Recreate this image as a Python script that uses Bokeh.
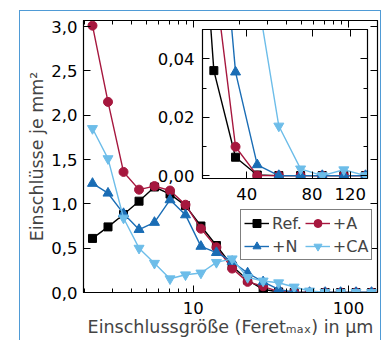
from bokeh.plotting import figure
from bokeh.models import (FixedTicker, LogAxis, LinearAxis, Legend, LegendItem,
                          Range1d, Div)
from bokeh.layouts import column
from bokeh.embed import file_html
from bokeh.resources import INLINE

# ---------------- data ----------------
size_um = [2.24, 2.82, 3.55, 4.47, 5.62, 7.08, 8.91, 11.2, 14.1, 17.8,
           22.4, 28.2, 35.5, 44.7, 56.2, 70.8, 89.1, 112, 141]
ref = [0.61, 0.74, 0.88, 1.03, 1.19, 1.11, 0.98, 0.75, 0.53, 0.30,
       0.14, 0.036, 0.0063, 0.0002, 0.0, 0.0, 0.0, 0.0, 0.0]
plus_a = [3.01, 2.15, 1.36, 1.16, 1.20, 1.15, 0.99, 0.72, 0.51, 0.27,
          0.12, 0.07, 0.0099, 0.0, 0.0, 0.0, 0.0, 0.0, 0.0]
plus_n = [1.23, 1.12, 0.89, 0.71, 0.79, 1.045, 0.875, 0.52, 0.45, 0.35,
          0.22, 0.12, 0.0355, 0.0037, 0.0, 0.0, 0.0, 0.0, 0.0]
plus_ca = [1.85, 1.51, 0.84, 0.50, 0.33, 0.155, 0.20, 0.22, 0.34, 0.38,
           0.17, 0.13, 0.11, 0.062, 0.017, 0.0023, 0.0, 0.002, 0.0]

series_names = ["Ref.", "+A", "+N", "+CA"]
main_y_ticks = [0.0, 0.5, 1.0, 1.5, 2.0, 2.5, 3.0]
main_y_labels = ["0,0", "0,5", "1,0", "1,5", "2,0", "2,5", "3,0"]
main_x_ticks = [10, 100]
main_x_labels = ["10", "100"]
main_x_minor = [2, 3, 4, 5, 6, 7, 8, 9, 20, 30, 40, 50, 60, 70, 80, 90]
inset_y_ticks = [0.0, 0.02, 0.04]
inset_y_labels = ["0,00", "0,02", "0,04"]
inset_y_minor = [0.01, 0.03]
inset_x_ticks = [40, 80, 120]
inset_x_labels = ["40", "80", "120"]

# ---------------- styles ----------------
FONT = "DejaVu Sans"
colors = ["#000000", "#A6173E", "#1A6DB5", "#6DBDE9"]
markers = ["square", "circle", "triangle", "inverted_triangle"]
msizes = [8, 9, 10, 10]
series = [ref, plus_a, plus_n, plus_ca]


def style_axis(ax, labels=True, fs="16.5px", standoff=7):
    ax.axis_line_color = "black"
    ax.major_tick_line_color = "black"
    ax.minor_tick_line_color = "black"
    ax.major_tick_in = 7
    ax.major_tick_out = 0
    ax.minor_tick_in = 4
    ax.minor_tick_out = 0
    ax.major_label_text_font = FONT
    if labels:
        ax.major_label_text_font_size = fs
        ax.major_label_standoff = standoff
        ax.major_label_text_color = "black"
    else:
        ax.major_label_text_font_size = "0px"
        ax.major_label_standoff = 0
        ax.major_label_text_alpha = 0


# ---------------- main figure ----------------
p = figure(width=388, height=340, x_axis_type="log",
           x_range=Range1d(1.96, 154), y_range=Range1d(0, 3.068),
           output_backend="svg", toolbar_location=None,
           min_border_left=83, min_border_right=11,
           min_border_top=20, min_border_bottom=48,
           frame_align=False, margin=(0, 0, 0, 0))
p.grid.visible = False
p.outline_line_color = "black"
p.outline_line_width = 1.2
p.background_fill_color = "white"
p.border_fill_color = "white"

xa = p.xaxis[0]
xa.ticker = FixedTicker(ticks=main_x_ticks, minor_ticks=main_x_minor)
xa.major_label_overrides = {t: l for t, l in zip(main_x_ticks, main_x_labels)}
style_axis(xa, standoff=9)
xa.axis_label = "Einschlussgröße (Feretₘₐₓ) in µm"
xa.axis_label_text_font = FONT
xa.axis_label_text_font_size = "17.5px"
xa.axis_label_text_font_style = "normal"
xa.axis_label_standoff = 0

ya = p.yaxis[0]
ya.ticker = FixedTicker(ticks=main_y_ticks, minor_ticks=[])
ya.major_label_overrides = {t: l for t, l in zip(main_y_ticks, main_y_labels)}
style_axis(ya, standoff=6)
ya.axis_label = "Einschlüsse je mm²"
ya.axis_label_text_font = FONT
ya.axis_label_text_font_size = "17.5px"
ya.axis_label_text_font_style = "normal"
ya.axis_label_standoff = 1

top_ax = LogAxis(ticker=FixedTicker(ticks=main_x_ticks, minor_ticks=main_x_minor))
style_axis(top_ax, labels=False)
p.add_layout(top_ax, "above")
right_ax = LinearAxis(ticker=FixedTicker(ticks=main_y_ticks, minor_ticks=[]))
style_axis(right_ax, labels=False)
p.add_layout(right_ax, "right")

items = []
for name, ys, c, m, s in zip(series_names, series, colors, markers, msizes):
    l = p.line(size_um, ys, line_color=c, line_width=1.4)
    sc = p.scatter(size_um, ys, marker=m, size=s, fill_color=c, line_color=c)
    items.append(LegendItem(label=name, renderers=[l, sc]))

legend = Legend(items=items, location=(157, 32), orientation="horizontal", ncols=2,
                label_text_font=FONT, label_text_font_size="16px",
                glyph_width=25, glyph_height=20, label_height=20, label_standoff=3,
                spacing=3, padding=3, margin=0,
                border_line_color="black", border_line_width=1,
                background_fill_color="white", background_fill_alpha=1)
p.add_layout(legend)

# ---------------- inset ----------------
INS_TOP = 25
INS_H = 179
ins = figure(frame_width=165, frame_height=149, x_axis_type="log",
             x_range=Range1d(25, 144), y_range=Range1d(-0.001, 0.0501),
             output_backend="svg", toolbar_location=None,
             min_border_left=54, min_border_right=3,
             min_border_top=4, min_border_bottom=26,
             frame_align=False,
             margin=(INS_TOP - 340, 0, 0, 148))
ins.grid.visible = False
ins.outline_line_color = "black"
ins.outline_line_width = 1.2
ins.background_fill_color = "white"
ins.border_fill_color = None

ixa = ins.xaxis[0]
ixa.ticker = FixedTicker(ticks=inset_x_ticks, minor_ticks=[])
ixa.major_label_overrides = {t: l for t, l in zip(inset_x_ticks, inset_x_labels)}
style_axis(ixa, standoff=9)
iya = ins.yaxis[0]
iya.ticker = FixedTicker(ticks=inset_y_ticks, minor_ticks=inset_y_minor)
iya.major_label_overrides = {t: l for t, l in zip(inset_y_ticks, inset_y_labels)}
style_axis(iya, standoff=8)

itop = LogAxis(ticker=FixedTicker(ticks=inset_x_ticks, minor_ticks=[]))
style_axis(itop, labels=False)
ins.add_layout(itop, "above")
iright = LinearAxis(ticker=FixedTicker(ticks=inset_y_ticks, minor_ticks=inset_y_minor))
style_axis(iright, labels=False)
ins.add_layout(iright, "right")

for ys, c, m, s in zip(series, colors, markers, msizes):
    ins.line(size_um, ys, line_color=c, line_width=1.4)
    ins.scatter(size_um, ys, marker=m, size=s, fill_color=c, line_color=c)

# light-blue panel frame drawn on top (transparent inside)
frame_div = Div(text="", width=362, height=340,
                margin=(10 - (INS_TOP + INS_H), 0, 0, 19),
                styles={"border-top": "1.5px solid #4F9BD6",
                        "border-left": "1.5px solid #4F9BD6",
                        "border-right": "1.5px solid #4F9BD6",
                        "background": "transparent",
                        "pointer-events": "none"})

layout = column(p, ins, frame_div, margin=(0, 0, 0, 0))
open("out.html", "w").write(file_html(layout, INLINE))
